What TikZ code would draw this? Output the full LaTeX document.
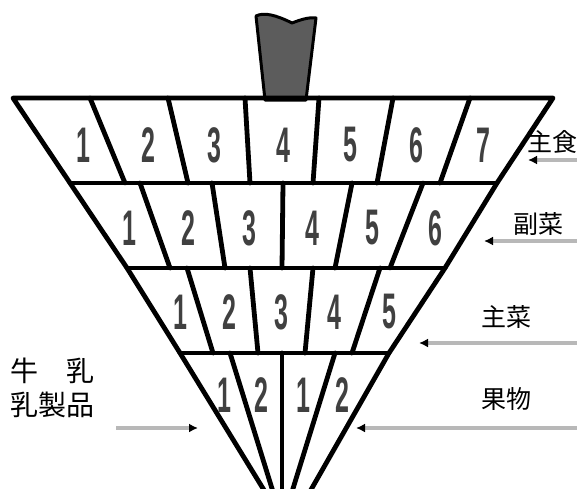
\documentclass[tikz,border=0pt]{standalone}
\usepackage{fontspec}
\usetikzlibrary{arrows.meta}
\newfontfamily\jpfont{Noto Sans CJK JP}
\newfontfamily\digfont{Liberation Sans}
\begin{document}
\begin{tikzpicture}[x=1pt,y=-1pt,
  edge/.style={line width=4.8pt, line join=round, line cap=round},
  num/.style={font=\digfont\bfseries\fontsize{50}{50}\selectfont, text=black!75, inner sep=0pt},
  lblr/.style={font=\jpfont\fontsize{25}{25}\selectfont, inner sep=0pt},
  lbll/.style={font=\jpfont\fontsize{28}{28}\selectfont, inner sep=0pt, anchor=west},
  ptr/.style={draw=black!28, line width=3.5pt, -{Latex[length=9pt,width=9pt,color=black]}}]
\useasboundingbox (0,0) rectangle (577,488);
\clip (0,0) rectangle (577,488);
\fill[white] (0,0) rectangle (577,488);
% handle
\draw[line width=3pt, fill=black!64, line join=round] (256,16) .. controls (264,12) and (276,15) .. (292,23) .. controls (300,20) and (308,17) .. (316,18) -- (306,100) -- (265,100) -- cycle;
% body corners
\coordinate (TL) at (13,98);
\coordinate (TR) at (553,98);
\coordinate (L1) at (70,183);
\coordinate (R1) at (497,183);
\coordinate (L2) at (127,268);
\coordinate (R2) at (445,268);
\coordinate (L3) at (180,353);
\coordinate (R3) at (389,353);
\coordinate (LB) at (267,495);
\coordinate (RB) at (308,495);
\draw[edge] (LB) -- (L3) -- (L2) -- (L1) -- (TL) -- (TR) -- (R1) -- (R2) -- (R3) -- (RB);
\draw[edge] (L1) -- (R1);
\draw[edge] (L2) -- (R2);
\draw[edge] (L3) -- (R3);
% dividers
\foreach \a/\b in {90/125,168/188,245/250,319/313,393/377,470/440}
  \draw[edge] (\a,98) -- (\b,183);
\foreach \a/\b in {140/170,212/225,283/282,352/335,423/390}
  \draw[edge] (\a,183) -- (\b,268);
\foreach \a/\b in {187/213,250/258,313/305,380/352}
  \draw[edge] (\a,268) -- (\b,353);
\foreach \a/\b in {230/274,282/282,335/291}
  \draw[edge] (\a,353) -- (\b,495);
% numbers
\foreach \x [count=\i] in {83,148,214,283,350,416,483}
  \node[num] (ra\i) at (\x,145) {\scalebox{0.5}[1]{\i}};
\foreach \x [count=\i] in {129,188,249,312,372,435}
  \node[num] (rb\i) at (\x,228) {\scalebox{0.5}[1]{\i}};
\foreach \x [count=\i] in {180,229,281,334,389}
  \node[num] (rc\i) at (\x,312) {\scalebox{0.5}[1]{\i}};
\foreach \x/\t [count=\i] in {224/1,261/2,303/1,342/2}
  \node[num] (rd\i) at (\x,395) {\scalebox{0.5}[1]{\t}};
% labels
\node[lblr] (shushoku) at (552,142) {主食};
\node[lblr] (fukusai) at (538,224) {副菜};
\node[lblr] (shusai) at (506,317) {主菜};
\node[lblr] (kudamono) at (506,399) {果物};
\node[lbll] (gyunyu) at (10,371) {牛　乳};
\node[lbll] (nyuseihin) at (10,405) {乳製品};
% pointers
\coordinate (s1) at (580,160); \coordinate (e1) at (528,160);
\coordinate (s2) at (580,241); \coordinate (e2) at (484,241);
\coordinate (s3) at (580,343); \coordinate (e3) at (419,343);
\coordinate (s4) at (580,428); \coordinate (e4) at (356,428);
\coordinate (s5) at (116,428); \coordinate (e5) at (198,428);
\draw[ptr] (s1) -- (e1);
\draw[ptr] (s2) -- (e2);
\draw[ptr] (s3) -- (e3);
\draw[ptr] (s4) -- (e4);
\draw[ptr] (s5) -- (e5);
\end{tikzpicture}
\end{document}
